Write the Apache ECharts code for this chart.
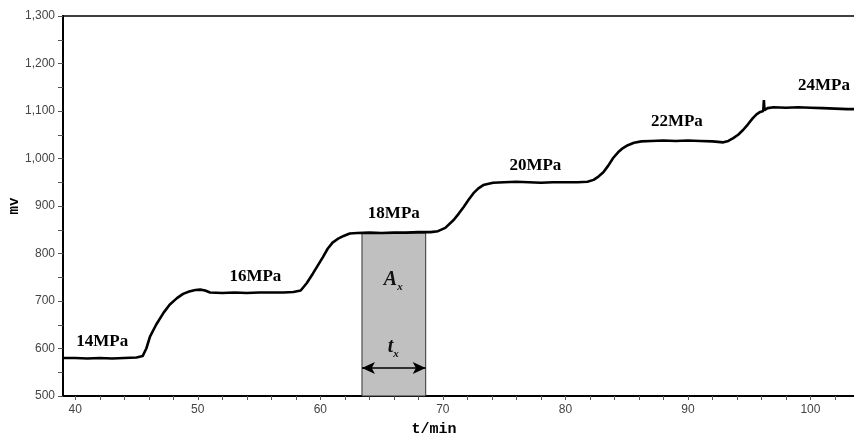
<!DOCTYPE html>
<html>
<head>
<meta charset="utf-8">
<script src="https://cdn.jsdelivr.net/npm/echarts@6/dist/echarts.min.js"></script>
<style>html,body{margin:0;padding:0;background:#fff}#c{width:854px;height:436px}</style>
</head>
<body>
<div id="c"></div>
<script>
// time (min)
var time = [39.0,40,41,42,43,44,45,45.5,45.8,46.1,46.6,47.2,47.7,48.3,48.8,49.3,49.8,50.2,50.6,51.0,52,53,54,55,56,57,57.8,58.4,58.9,59.4,59.8,60.2,60.6,61.0,61.5,61.9,62.4,63,64,65,66,67,68,69,69.6,70.2,70.9,71.3,71.7,72.1,72.5,72.9,73.3,74.1,75,76,77,78,79,80,81,81.8,82.3,82.7,83.1,83.5,83.9,84.3,84.7,85.1,85.6,86.2,87,88,89,90,91,92,92.9,93.3,93.7,94.1,94.5,94.9,95.3,95.6,95.9,96.15,96.2,96.25,96.5,97,98,99,100,101,102,103,103.8];
// signal (mv)
var mv = [580,580,579,580,579,580,581,584,600,625,650,675,692,706,715,720,723,724,722,718,717,718,717,718,718,718,719,722,738,758,775,792,810,823,832,837,842,843,844,843,844,844,845,845,847,854,871,884,898,913,927,937,944,949,950,951,950,949,950,950,950,951,955,962,971,985,1001,1013,1022,1028,1033,1036,1037,1038,1037,1038,1037,1036,1034,1037,1043,1050,1060,1072,1085,1093,1098,1100,1123,1102,1106,1108,1107,1108,1107,1106,1105,1104,1104];
var xLabels = [40,50,60,70,80,90,100];
var xTicks = [40,42,44,46,48,50,52,54,56,58,60,62,64,66,68,70,72,74,76,78,80,82,84,86,88,90,92,94,96,98,100,102];
var yTicks = [500,550,600,650,700,750,800,850,900,950,1000,1050,1100,1150,1200,1250,1300];
var pressureNames = ['14MPa','16MPa','18MPa','20MPa','22MPa','24MPa'];
var pressureT = [42.2,54.7,66.0,77.55,89.1,101.1];
var pressureV = [614,751,883,986,1077,1153];
var shadeRange = [63.4, 68.6];
var shadeTop = 843;
var arrowV = 559;

var chart = echarts.init(document.getElementById('c'));
var labelPts = pressureNames.map(function(n,i){
  return {name:n, coord:[pressureT[i], pressureV[i]]};
});
labelPts.push({name:'A', coord:[65.95, 744], label:{formatter:'{a|A}{s|x}'}});
labelPts.push({name:'t', coord:[65.95, 603], label:{formatter:'{a|t}{s|x}'}});

chart.setOption({
  animation:false,
  grid:{left:63, top:16, right:-3, bottom:40, show:true, borderColor:'#000', borderWidth:1.5,
        containLabel:false, outerBoundsMode:'none'},
  xAxis:{
    type:'value', min:39, max:103.8,
    name:'t/min', nameLocation:'middle', nameGap:26,
    nameTextStyle:{fontFamily:'Liberation Mono', fontWeight:'bold', fontSize:15, color:'#000', padding:[0,52,0,0]},
    axisLine:{lineStyle:{color:'#000', width:2}},
    axisTick:{show:true, length:4, customValues:xTicks, lineStyle:{color:'#555'}},
    axisLabel:{customValues:xLabels, fontFamily:'Liberation Sans', fontSize:12, color:'#444', margin:8},
    splitLine:{show:false}
  },
  yAxis:{
    type:'value', min:500, max:1300, interval:100,
    name:'mv', nameLocation:'middle', nameGap:42, nameMoveOverlap:false,
    nameTextStyle:{fontFamily:'Liberation Mono', fontWeight:'bold', fontSize:14, color:'#000'},
    axisLine:{show:true, lineStyle:{color:'#000', width:2}},
    axisTick:{show:true, length:5, customValues:yTicks, lineStyle:{color:'#555'}},
    axisLabel:{fontFamily:'Liberation Sans', fontSize:12, color:'#444', margin:8,
      formatter:function(v){return v.toLocaleString('en-US');}},
    splitLine:{show:false}
  },
  series:[{
    type:'line',
    data: time.map(function(t,i){return [t, mv[i]];}),
    showSymbol:false, symbol:'none',
    lineStyle:{color:'#000', width:2.6},
    z:5,
    markArea:{
      silent:true,
      itemStyle:{color:'#c0c0c0', borderColor:'#333', borderWidth:1},
      data:[[{coord:[shadeRange[0],500]},{coord:[shadeRange[1],shadeTop]}]]
    },
    markLine:{
      silent:true, symbol:['arrow','arrow'], symbolSize:[9,13],
      label:{show:false},
      lineStyle:{color:'#000', width:1.5, type:'solid'},
      data:[[{coord:[shadeRange[0],arrowV]},{coord:[shadeRange[1],arrowV]}]]
    },
    markPoint:{
      silent:true, symbol:'circle', symbolSize:0,
      label:{show:true, position:'inside', formatter:'{b}', fontFamily:'Liberation Serif', fontWeight:'bold', fontSize:17, color:'#000',
        rich:{
          a:{fontFamily:'Liberation Serif', fontStyle:'italic', fontSize:20, color:'#111'},
          s:{fontFamily:'Liberation Serif', fontStyle:'italic', fontSize:11, color:'#111', padding:[14,0,0,0]}
        }},
      data:labelPts
    }
  }]
});
</script>
</body>
</html>
